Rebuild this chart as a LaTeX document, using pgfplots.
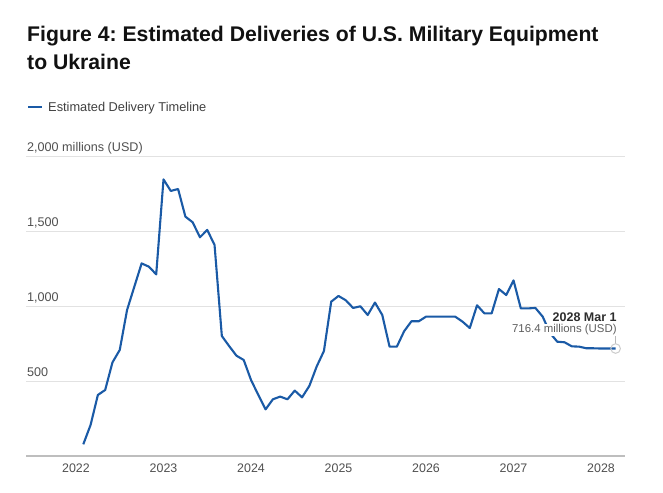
\documentclass[border=0pt]{standalone}
\usepackage{fontspec}
\setmainfont{Liberation Sans}
\usepackage{pgfplots}
\usepackage{pgfplotstable}
\pgfplotsset{compat=1.18}
\frenchspacing
\definecolor{lineblue}{RGB}{26,90,166}
\definecolor{gridgray}{RGB}{226,226,226}
\definecolor{basegray}{RGB}{190,190,190}
\definecolor{ticktext}{RGB}{80,80,80}
\definecolor{legtext}{RGB}{65,65,65}
\definecolor{titletext}{RGB}{17,17,17}
\definecolor{annotgray}{RGB}{95,95,95}
\definecolor{annotdark}{RGB}{45,45,45}
\pgfplotstableread{
m v
1 78
2 207
3 407
4 440
5 624
6 707
7 973
8 1129
9 1284
10 1262
11 1211
12 1844
13 1767
14 1780
15 1596
16 1558
17 1458
18 1507
19 1407
20 800
21 733
22 669
23 640
24 507
25 407
26 311
27 378
28 396
29 378
30 436
31 391
32 467
33 596
34 700
35 1029
36 1067
37 1038
38 987
39 998
40 940
41 1023
42 940
43 729
44 729
45 832
46 898
47 898
48 929
49 929
50 929
51 929
52 929
53 896
54 853
55 1005
56 951
57 951
58 1113
59 1073
60 1171
61 984
62 984
63 987
64 929
65 820
66 762
67 758
68 731
69 729
70 718
71 718
72 716.4
73 716.4
74 716.4
}\deliveries
\begin{document}
\begin{tikzpicture}
\path[fill=white] (0,0) rectangle (663bp,493bp);
\node[anchor=base west, inner sep=0pt, text=titletext, font=\fontsize{21.2bp}{28bp}\selectfont\bfseries] at (27bp,451bp) {Figure 4: Estimated Deliveries of U.S. Military Equipment};
\node[anchor=base west, inner sep=0pt, text=titletext, font=\fontsize{21.2bp}{28bp}\selectfont\bfseries] at (27bp,423bp) {to Ukraine};
\begin{axis}[
  at={(26bp,37bp)}, anchor=south west,
  scale only axis, width=599bp, height=300bp,
  xmin=-0.5714, xmax=6.274,
  ymin=0, ymax=2000,
  axis line style={draw=none},
  major tick length=0pt,
  tick style={draw=none},
  xtick={0,1,2,3,4,5,6},
  xticklabels={2022,2023,2024,2025,2026,2027,2028},
  ytick={500,1000,1500,2000},
  yticklabels={500,{1,000},{1,500},{2,000 millions (USD)}},
  ymajorgrids=true,
  grid style={color=gridgray, line width=0.9bp},
  extra y ticks={0},
  extra y tick labels={},
  extra y tick style={grid style={color=basegray, line width=1.4bp}},
  xticklabel style={anchor=base, inner sep=0pt, yshift=-16.7bp, text=ticktext, font=\fontsize{12.4bp}{14bp}\selectfont},
  yticklabel style={anchor=base west, inner sep=0pt, xshift=1bp, yshift=4bp, text=ticktext, font=\fontsize{12.6bp}{14bp}\selectfont},
  legend style={at={(0.0017,1.1617)}, anchor=west, draw=none, fill=none, inner sep=0pt, font=\fontsize{12.8bp}{14bp}\selectfont, text=legtext, nodes={inner sep=0pt}, column sep=5bp},
  legend image code/.code={\draw[#1, line width=2bp] (0bp,0bp) -- (14bp,0bp);},
  legend cell align=left,
]
\addplot[color=lineblue, line width=2.1bp, line join=round, mark=none] table[x expr=\thisrow{m}/12, y=v] {\deliveries};
\addlegendentry{Estimated Delivery Timeline}
\addplot[only marks, mark=o, mark size=4.8bp, color=gray!40, line width=1bp, forget plot] coordinates {(6.1667,716.4)};
\draw[gray!55, line width=0.6bp] ([yshift=5bp]axis cs:6.1667,716.4) -- ([yshift=12.5bp]axis cs:6.1667,716.4);
\node[anchor=base east, xshift=2bp, yshift=15.8bp, fill=white, inner sep=0.8bp, text=annotgray, font=\fontsize{11.4bp}{13bp}\selectfont] at (axis cs:6.1667,716.4) {716.4 millions (USD)};
\node[anchor=base east, xshift=2bp, yshift=27.5bp, fill=white, inner sep=0.8bp, text=annotdark, font=\fontsize{12.5bp}{14bp}\selectfont\bfseries] at (axis cs:6.1667,716.4) {2028 Mar 1};
\end{axis}
\end{tikzpicture}
\end{document}
